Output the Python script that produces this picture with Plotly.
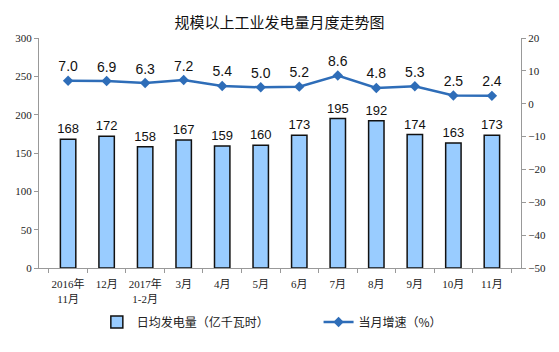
import plotly.graph_objects as go

categories = ["2016年<br>11月", "12月", "2017年<br>1-2月", "3月", "4月", "5月", "6月", "7月", "8月", "9月", "10月", "11月"]
daily_gen = [168, 172, 158, 167, 159, 160, 173, 195, 192, 174, 163, 173]
growth = [7.0, 6.9, 6.3, 7.2, 5.4, 5.0, 5.2, 8.6, 4.8, 5.3, 2.5, 2.4]

tick_font = dict(family="Liberation Serif, Noto Sans CJK SC", size=11, color="#222")
label_font = dict(family="Liberation Sans, Arial", size=13, color="#111")
legend_font = dict(family="Noto Sans CJK SC", size=12, color="#222")

fig = go.Figure()
fig.add_trace(go.Bar(
    x=categories, y=daily_gen, name="日均发电量（亿千瓦时）",
    marker=dict(color="#99CCFF", line=dict(color="#111", width=1.5)),
    width=0.4,
    text=[str(v) for v in daily_gen], textposition="outside",
    textfont=label_font, outsidetextfont=label_font, constraintext="none",
    cliponaxis=False, legend="legend",
))
fig.add_trace(go.Scatter(
    x=categories, y=growth, name="当月增速（%）", yaxis="y2",
    mode="lines+markers+text",
    line=dict(color="#2E6DB8", width=2.5),
    marker=dict(symbol="diamond", size=8, color="#2E6DB8"),
    text=[f"{v:.1f}" for v in growth], textposition="top center",
    textfont=dict(family="Liberation Sans, Arial", size=14, color="#111"), cliponaxis=False, legend="legend2",
))

fig.update_layout(
    width=559, height=352,
    margin=dict(l=39, r=38, t=38, b=84),
    paper_bgcolor="white", plot_bgcolor="white",
    title=dict(text="规模以上工业发电量月度走势图", x=0.5, xanchor="center", y=0.935, yanchor="middle",
               font=dict(family="Noto Sans CJK SC", size=15, color="#111")),
    xaxis=dict(type="category", tickson="boundaries", ticks="outside", ticklen=4,
               tickcolor="#999", showline=True, linecolor="#999", linewidth=1,
               tickfont=tick_font, showgrid=False, tickangle=0, ticklabelstandoff=6),
    yaxis=dict(range=[0, 300], dtick=50, ticks="outside", ticklen=4, tickcolor="#999",
               showline=True, linecolor="#999", showgrid=False, zeroline=False,
               tickfont=tick_font),
    yaxis2=dict(range=[-50, 20], dtick=10, overlaying="y", side="right",
                ticks="outside", ticklen=4, tickcolor="#999",
                showline=True, linecolor="#999", showgrid=False, zeroline=False,
                tickfont=tick_font),
    legend=dict(orientation="h", x=0.12, xanchor="left", y=-0.235, yanchor="middle",
                font=legend_font, itemwidth=30),
    legend2=dict(orientation="h", x=0.58, xanchor="left", y=-0.235, yanchor="middle",
                 font=legend_font, itemwidth=30),
    bargap=0.6,
    showlegend=True,
)

fig.write_html("out.html")
